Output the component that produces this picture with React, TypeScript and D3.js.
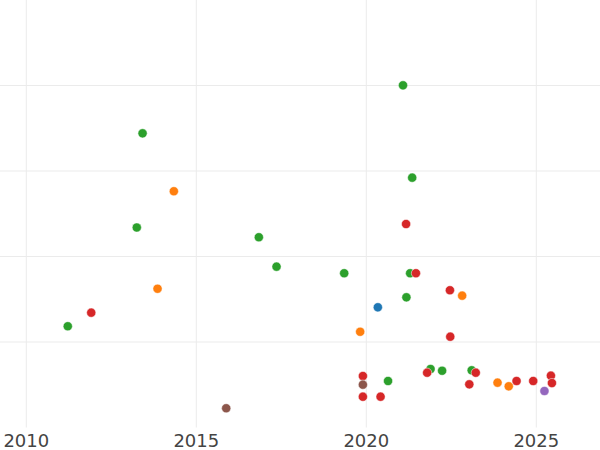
import React from "react";
import * as d3 from "d3";

const xTicks = [2010, 2015, 2020, 2025];
const yGrid = [1, 2, 3, 4];

const blueYears = [2020.34];
const blueValues = [1.406];

const orangeYears = [2014.34, 2013.86, 2019.82, 2022.82, 2023.86, 2024.19];
const orangeValues = [2.763, 1.623, 1.12, 1.542, 0.524, 0.482];

const greenYears = [2013.42, 2013.25, 2021.08, 2021.35, 2016.84, 2017.36, 2011.22, 2019.35, 2021.29, 2021.18, 2021.89, 2022.23, 2023.1, 2020.64];
const greenValues = [3.441, 2.339, 4.002, 2.922, 2.225, 1.881, 1.184, 1.804, 1.804, 1.523, 0.684, 0.664, 0.669, 0.544];

const redYears = [2021.17, 2011.91, 2021.46, 2022.46, 2022.47, 2021.79, 2023.22, 2019.9, 2019.9, 2020.42, 2023.03, 2024.42, 2024.91, 2025.43, 2025.46];
const redValues = [2.38, 1.343, 1.804, 1.605, 1.062, 0.641, 0.641, 0.602, 0.36, 0.36, 0.505, 0.544, 0.544, 0.606, 0.52];

const purpleYears = [2025.24];
const purpleValues = [0.427];

const brownYears = [2015.88, 2019.9];
const brownValues = [0.225, 0.501];

const series = [
  { color: "#1f77b4", years: blueYears, values: blueValues },
  { color: "#ff7f0e", years: orangeYears, values: orangeValues },
  { color: "#2ca02c", years: greenYears, values: greenValues },
  { color: "#d62728", years: redYears, values: redValues },
  { color: "#9467bd", years: purpleYears, values: purpleValues },
  { color: "#8c564b", years: brownYears, values: brownValues },
];

export default function App() {
  const W = 600;
  const H = 450;
  const plotBottom = 427.5;
  const x = d3.scaleLinear().domain([2009.2265, 2026.874]).range([0, W]);
  const y = d3.scaleLinear().domain([0, 5]).range([plotBottom, 0]);

  return (
    <div style={{ position: "fixed", left: 0, top: 0 }}>
      <svg width={W} height={H} style={{ display: "block", background: "#fff" }}>
        <g>
          {yGrid.map((v) => (
            <line key={"h" + v} x1={0} x2={W} y1={y(v)} y2={y(v)} stroke="#ebebeb" strokeWidth={1} />
          ))}
          {xTicks.map((t) => (
            <line key={"v" + t} x1={x(t)} x2={x(t)} y1={0} y2={plotBottom} stroke="#ebebeb" strokeWidth={1} />
          ))}
        </g>
        <g>
          {series.map((s, si) =>
            s.years.map((yr, i) => (
              <circle
                key={si + "-" + i}
                cx={x(yr)}
                cy={y(s.values[i])}
                r={4.6}
                fill={s.color}
                stroke="#fff"
                strokeWidth={0.5}
              />
            ))
          )}
        </g>
        <g>
          {xTicks.map((t) => (
            <text
              key={"t" + t}
              x={x(t)}
              y={447}
              textAnchor="middle"
              fontFamily="DejaVu Sans"
              fontSize={18}
              fill="#444"
            >
              {t}
            </text>
          ))}
        </g>
      </svg>
    </div>
  );
}
